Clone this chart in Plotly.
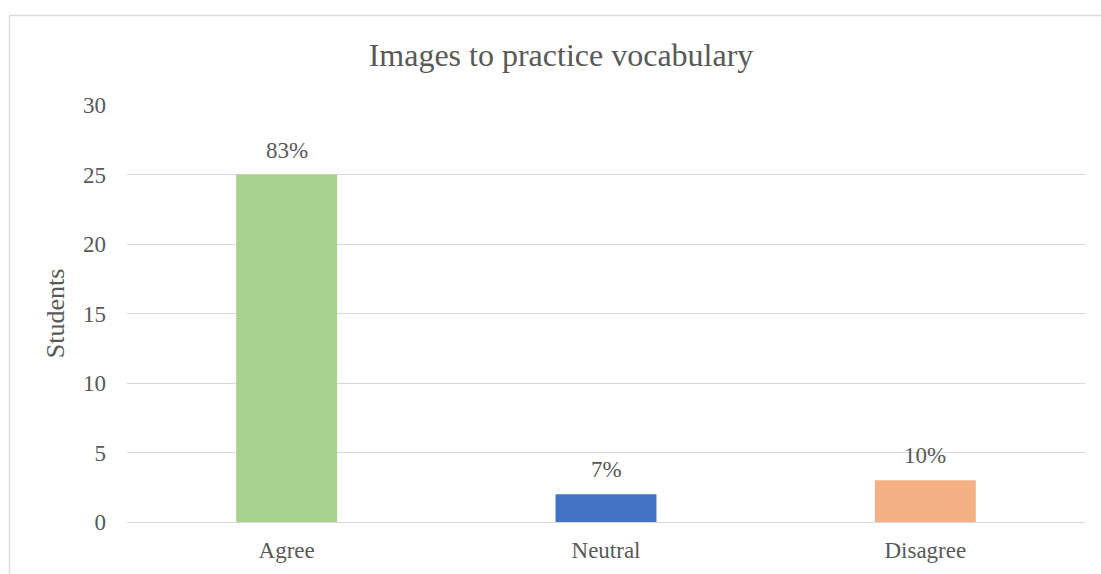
import plotly.graph_objects as go

# Survey responses: number of students per answer
categories = ["Agree", "Neutral", "Disagree"]
students = [25, 2, 3]
bar_colors = ["#A9D18E", "#4472C4", "#F4B183"]
y_ticks = [0, 5, 10, 15, 20, 25, 30]

total = sum(students)
pct_labels = [f"{round(v / total * 100)}%" for v in students]

FONT = "Liberation Serif, Times New Roman, serif"
TEXT = "#595959"
GRID = "#D9D9D9"

W, H = 1101, 574
ML, MR, MT, MB = 127, 16, 105, 52
PW, PH = W - ML - MR, H - MT - MB

fig = go.Figure(
    go.Bar(
        x=categories,
        y=students,
        marker=dict(color=bar_colors, line=dict(width=0)),
        width=0.316,
        hoverinfo="x+y",
    )
)

# percentage labels above each bar
for cat, val, lab in zip(categories, students, pct_labels):
    fig.add_annotation(
        x=cat, y=val, text=lab, showarrow=False,
        xanchor="center", yanchor="bottom", yshift=10,
        font=dict(family=FONT, size=23, color=TEXT),
    )


def px_x(x):
    return (x - ML) / PW


def px_y(y):
    return (H - MB - y) / PH


# chart-area frame
fig.add_shape(
    type="rect", xref="paper", yref="paper",
    x0=px_x(9.5), x1=px_x(1108), y0=px_y(580), y1=px_y(15.5),
    line=dict(color="#D9D9D9", width=1.3), fillcolor="rgba(0,0,0,0)",
    layer="below",
)

fig.update_layout(
    width=W, height=H,
    margin=dict(l=ML, r=MR, t=MT, b=MB),
    paper_bgcolor="white", plot_bgcolor="white",
    showlegend=False,
    font=dict(family=FONT, color=TEXT),
    title=dict(
        text="Images to practice vocabulary",
        x=561 / W, xanchor="center", xref="container",
        y=1 - 55 / H, yanchor="middle",
        font=dict(family=FONT, size=32, color=TEXT),
    ),
    xaxis=dict(
        showgrid=False, showline=False, zeroline=False,
        tickfont=dict(family=FONT, size=23, color=TEXT),
        ticks="", ticklabelstandoff=12,
    ),
    yaxis=dict(
        range=[0, 30], tickvals=y_ticks,
        showgrid=True, gridcolor=GRID, gridwidth=1.3,
        zeroline=True, zerolinecolor=GRID, zerolinewidth=1.3,
        showline=False, ticks="",
        tickfont=dict(family=FONT, size=23, color=TEXT),
        ticklabelstandoff=20,
        title=dict(text="Students", font=dict(family=FONT, size=26, color=TEXT), standoff=10),
    ),
)

fig.write_html("out.html")
